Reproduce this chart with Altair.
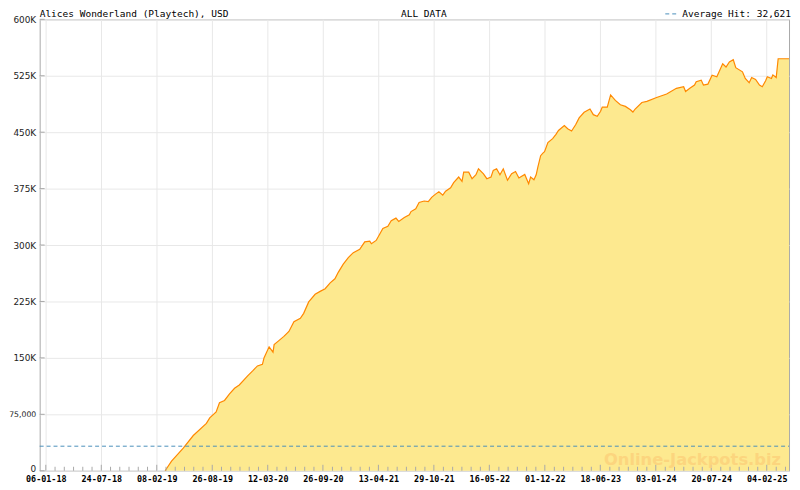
import altair as alt
import pandas as pd

# ---------------- data ----------------
dates = [
    "2019-03-10", "2019-04-02", "2019-05-14", "2019-06-19", "2019-08-05", "2019-08-17",
    "2019-09-09", "2019-09-21", "2019-10-09", "2019-10-27", "2019-11-14", "2019-12-01",
    "2019-12-31", "2020-01-18", "2020-02-04", "2020-02-22", "2020-02-28", "2020-03-17",
    "2020-03-31", "2020-04-04", "2020-04-21", "2020-05-09", "2020-05-27", "2020-06-14",
    "2020-07-07", "2020-07-19", "2020-08-06", "2020-08-29", "2020-09-16", "2020-10-04",
    "2020-10-22", "2020-11-08", "2020-11-20", "2020-12-08", "2020-12-26", "2021-01-13",
    "2021-02-05", "2021-02-23", "2021-03-13", "2021-03-19", "2021-04-05", "2021-04-17",
    "2021-04-29", "2021-05-17", "2021-05-29", "2021-06-15", "2021-06-25", "2021-07-15",
    "2021-08-02", "2021-08-08", "2021-08-25", "2021-09-06", "2021-09-24", "2021-10-09",
    "2021-10-21", "2021-11-04", "2021-11-16", "2021-11-30", "2021-12-10", "2021-12-28",
    "2022-01-08", "2022-01-26", "2022-02-07", "2022-02-13", "2022-03-03", "2022-03-15",
    "2022-03-29", "2022-04-07", "2022-04-25", "2022-05-07", "2022-05-22", "2022-05-30",
    "2022-06-11", "2022-06-23", "2022-07-05", "2022-07-20", "2022-08-04", "2022-08-18",
    "2022-08-30", "2022-09-20", "2022-10-04", "2022-10-11", "2022-10-23", "2022-10-31",
    "2022-11-06", "2022-11-16", "2022-11-24", "2022-11-30", "2022-12-12", "2022-12-29",
    "2023-01-10", "2023-01-19", "2023-02-09", "2023-02-21", "2023-03-07", "2023-03-22",
    "2023-04-03", "2023-04-21", "2023-05-12", "2023-05-24", "2023-06-07", "2023-06-19",
    "2023-06-25", "2023-07-13", "2023-07-25", "2023-08-11", "2023-08-29", "2023-09-16",
    "2023-10-04", "2023-10-13", "2023-10-21", "2023-11-14", "2023-12-02", "2024-01-06",
    "2024-02-11", "2024-03-17", "2024-04-12", "2024-04-19", "2024-05-04", "2024-05-21",
    "2024-05-27", "2024-06-14", "2024-06-22", "2024-07-08", "2024-07-23", "2024-08-09",
    "2024-08-30", "2024-09-11", "2024-09-23", "2024-10-07", "2024-10-16", "2024-11-09",
    "2024-11-19", "2024-12-03", "2024-12-12", "2024-12-26", "2025-01-09", "2025-01-19",
    "2025-01-31", "2025-02-06", "2025-02-21", "2025-02-26", "2025-03-10", "2025-03-17",
    "2025-04-25",
]
values = [
    0, 12700, 30100, 46800, 62900, 70300,
    78200, 90400, 93400, 102200, 109600, 114000,
    126200, 132700, 139300, 141500, 150300, 164700,
    157600, 167700, 172900, 178600, 185100, 198200,
    202700, 209200, 224400, 234500, 238400, 242000,
    249800, 255100, 263700, 274700, 283400, 289900,
    294400, 304300, 305200, 301700, 306100, 314000,
    321900, 324900, 332300, 335800, 331400, 336700,
    340200, 344500, 348100, 356700, 358500, 357600,
    363300, 367700, 370700, 366400, 371600, 376000,
    382900, 390400, 384700, 396900, 396900, 388200,
    393400, 401300, 394700, 388200, 390400, 399200,
    401300, 393400, 401300, 386100, 394700, 397800,
    389100, 393900, 381600, 390400, 386800, 393400,
    403500, 418800, 422200, 424000, 436200, 441500,
    447100, 452300, 458900, 454600, 451600, 460200,
    469000, 476400, 480800, 473300, 471200, 477800,
    483400, 483400, 499500, 492200, 486400, 484300,
    479900, 476800, 480800, 489500, 490900, 496100,
    500800, 508300, 510500, 504000, 508300, 512600,
    517100, 519200, 512600, 513900, 525700, 523600,
    541000, 536700, 543300, 546300, 535800, 530200,
    521400, 515700, 522700, 520100, 512600, 510500,
    518400, 523600, 521400, 526200, 522700, 547600,
    547600,
]

major_ticks = [
    "2018-01-06", "2018-07-24", "2019-02-08", "2019-08-26", "2020-03-12",
    "2020-09-26", "2021-04-13", "2021-10-29", "2022-05-16", "2022-12-01",
    "2023-06-18", "2024-01-03", "2024-07-20", "2025-02-04",
]
y_ticks = [0, 75000, 150000, 225000, 300000, 375000, 450000, 525000, 600000]

title_left = "Alices Wonderland (Playtech), USD"
title_mid = "ALL DATA"
avg_label = "Average Hit: 32,621"
avg_hit = 32621
watermark = "Online-Jackpots.biz"

x_end = "2025-04-25"

# ---------------- layout ----------------
W, H = 757, 456
MONO = "DejaVu Sans Mono"
SANS = "DejaVu Sans"

df = pd.DataFrame({"date": dates, "value": values})

# minor ticks: six per major interval
step = pd.Timedelta(days=199) / 6
t0 = pd.Timestamp(major_ticks[0])
minor = []
k = 0
while True:
    t = t0 + step * k
    if t > pd.Timestamp(x_end):
        break
    if k % 6 != 0:
        minor.append(t.strftime("%Y-%m-%dT%H:%M:%S"))
    k += 1
minor_df = pd.DataFrame({"date": minor})
major_df = pd.DataFrame({"date": major_ticks})
ytick_df = pd.DataFrame({"v": y_ticks})

x_scale = alt.Scale(
    domain=[alt.DateTime(year=2017, month=12, date=15),
            alt.DateTime(year=2025, month=4, date=25)],
    nice=False,
)
y_scale = alt.Scale(domain=[0, 600000], nice=False, zero=True)

x_axis = alt.Axis(
    values=[alt.DateTime(year=int(d[:4]), month=int(d[5:7]), date=int(d[8:10])) for d in major_ticks],
    format="%d-%m-%y",
    title=None,
    grid=True,
    gridColor="#e8e8e8",
    ticks=False,
    tickSize=0,
    domain=False,
    labelFont=MONO,
    labelFontWeight="bold",
    labelFontSize=8.5,
    labelColor="#000000",
    labelPadding=4,
    labelFlush=False,
    labelOverlap=False,
)
y_axis = alt.Axis(
    values=y_ticks,
    labelExpr="datum.value == 0 ? '0' : (datum.value == 75000 ? '75,000' : (datum.value / 1000) + 'K')",
    title=None,
    grid=True,
    gridColor="#e8e8e8",
    ticks=False,
    tickSize=0,
    domain=False,
    labelFont=SANS,
    labelFontSize={"condition": {"test": "datum.value == 75000", "value": 7.8}, "value": 9},
    labelOffset={"condition": {"test": "datum.value == 0", "value": -2}, "value": 0},
    labelColor="#222222",
    labelPadding=4,
    labelFlush=False,
    labelOverlap=False,
)

area = alt.Chart(df).mark_area(
    color="#fde98f",
    line={"color": "#ff8800", "strokeWidth": 1.2},
    opacity=1,
).encode(
    x=alt.X("date:T", scale=x_scale, axis=x_axis),
    y=alt.Y("value:Q", scale=y_scale, axis=y_axis),
)

avg_rule = alt.Chart(pd.DataFrame({"v": [avg_hit]})).mark_rule(
    color="#4a8fbb", strokeDash=[4, 3], strokeWidth=1
).encode(y=alt.Y("v:Q", scale=y_scale), x=alt.value(0), x2=alt.value(W))

major_ticks_layer = alt.Chart(major_df).mark_rule(color="#a8a8a8", strokeWidth=1).encode(
    x=alt.X("date:T", scale=x_scale), y=alt.value(H), y2=alt.value(H - 6)
)
minor_ticks_layer = alt.Chart(minor_df).mark_rule(color="#a8a8a8", strokeWidth=1).encode(
    x=alt.X("date:T", scale=x_scale), y=alt.value(H), y2=alt.value(H - 4)
)
y_ticks_layer = alt.Chart(ytick_df).mark_rule(color="#a8a8a8", strokeWidth=1).encode(
    y=alt.Y("v:Q", scale=y_scale), x=alt.value(0), x2=alt.value(5)
)

wm = alt.Chart(pd.DataFrame({"t": [watermark]})).mark_text(
    font=SANS, fontWeight="bold", fontSize=16.5, color="#fcd27c", opacity=0.85,
    align="right", baseline="alphabetic",
).encode(text="t:N", x=alt.value(749), y=alt.value(450))

TY = -2
t_left = alt.Chart(pd.DataFrame({"t": [title_left]})).mark_text(
    font=MONO, fontSize=9.6, color="#000000", align="left", baseline="alphabetic"
).encode(text="t:N", x=alt.value(0), y=alt.value(TY))
t_mid = alt.Chart(pd.DataFrame({"t": [title_mid]})).mark_text(
    font=MONO, fontSize=9.6, color="#000000", align="left", baseline="alphabetic"
).encode(text="t:N", x=alt.value(365), y=alt.value(TY))
t_right = alt.Chart(pd.DataFrame({"t": [avg_label]})).mark_text(
    font=MONO, fontSize=9.6, color="#000000", align="right", baseline="alphabetic"
).encode(text="t:N", x=alt.value(759), y=alt.value(TY))
legend_dash = alt.Chart(pd.DataFrame({"v": [avg_hit]})).mark_rule(
    color="#4a8fbb", strokeDash=[4, 3], strokeWidth=1
).encode(x=alt.value(632), x2=alt.value(646), y=alt.value(TY - 3.5))

chart = alt.layer(
    area, avg_rule, major_ticks_layer, minor_ticks_layer, y_ticks_layer, wm,
    t_left, t_mid, t_right, legend_dash,
).properties(
    width=W, height=H,
    autosize=alt.AutoSizeParams(type="none"),
    padding={"left": 32, "top": 9, "right": 3, "bottom": 17},
    background="#ffffff",
).configure_view(
    stroke="#a8a8a8", strokeWidth=1,
)

chart.save("out.html", embed_options={"renderer": "svg", "actions": False})
